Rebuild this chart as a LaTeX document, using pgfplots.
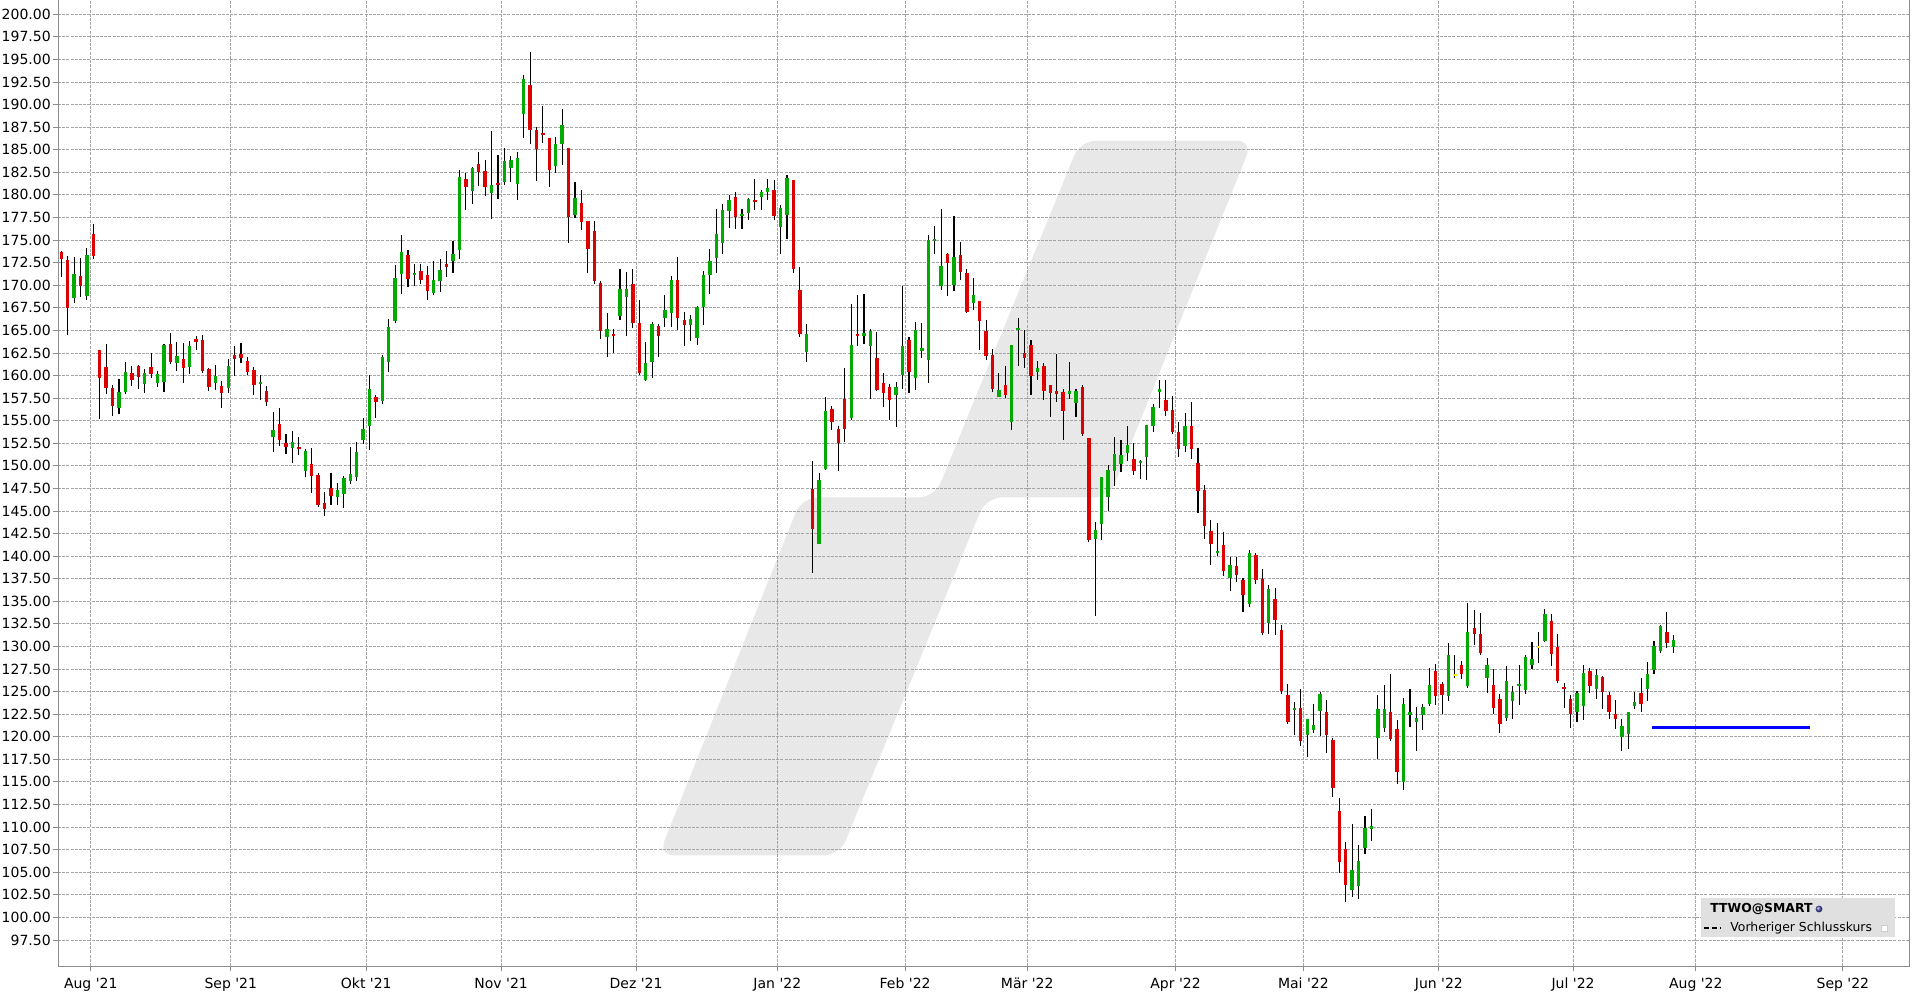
\documentclass[border=0pt]{standalone}
\usepackage{pgfplots}
\pgfplotsset{compat=1.18}
\usepackage{pgfplotstable}
\usepackage{fontspec}
\setmainfont{DejaVu Sans}
\definecolor{upgreen}{RGB}{0,170,0}
\definecolor{downred}{RGB}{220,0,0}
\definecolor{flatyellow}{RGB}{255,235,0}
\definecolor{wmgray}{RGB}{232,232,232}
\definecolor{gridgray}{RGB}{165,165,165}
\definecolor{legendgray}{RGB}{224,224,224}
\definecolor{pureblue}{RGB}{0,0,255}

\pgfplotstableread{
i o h l c
-5 173.68 173.75 170.96 172.86
-4 172.75 173.19 164.43 167.44
-3 168.55 173.08 167.99 171.19
-2 171.04 172.97 168.66 169.89
-1 168.85 174.08 168.40 173.30
0 175.64 176.76 172.86 173.23
1 162.83 162.83 155.18 159.75
2 160.97 163.50 157.97 158.64
3 158.60 158.93 155.52 156.63
4 156.41 159.60 155.74 158.15
5 158.15 161.49 157.97 160.38
6 160.27 161.05 158.82 159.53
7 161.05 161.16 158.49 159.86
8 159.08 160.72 158.04 160.27
9 160.94 162.50 159.75 160.16
10 159.16 160.49 158.71 160.16
11 159.27 163.54 158.15 163.43
12 163.50 164.76 161.23 161.46
13 161.38 163.72 160.49 162.20
14 161.83 163.61 159.16 160.83
15 160.97 163.83 160.16 163.28
16 164.09 164.39 162.83 163.76
17 163.95 164.50 160.27 160.49
18 160.72 160.83 158.26 158.75
19 159.19 161.16 158.41 159.93
20 158.82 159.38 156.41 158.08
21 158.64 161.83 158.04 161.05
22 162.27 163.28 159.93 161.87
23 162.39 163.61 161.38 161.98
24 161.60 162.05 160.05 160.42
25 160.60 160.94 157.86 158.97
26 159.08 160.05 157.26 159.27
27 158.27 158.82 156.64 157.09
28 153.20 155.94 151.54 153.94
29 154.61 156.38 152.21 152.87
30 152.47 153.50 151.32 152.10
31 151.99 153.83 150.33 152.61
32 152.06 153.17 151.21 151.88
33 149.44 151.91 148.78 151.62
34 150.21 151.95 147.00 148.88
35 148.96 149.18 145.45 145.63
36 145.85 147.07 144.45 145.19
37 147.52 149.18 145.71 146.67
38 146.56 148.07 145.71 147.30
39 146.89 148.85 145.34 148.63
40 148.33 152.10 147.99 149.07
41 148.78 152.61 148.33 151.50
42 152.87 155.27 152.43 154.05
43 154.42 160.04 151.77 158.49
44 157.60 157.82 155.31 157.09
45 157.19 162.25 156.83 162.03
46 161.52 166.25 160.41 165.36
47 166.02 172.23 165.80 170.79
48 171.27 175.56 169.02 173.67
49 173.34 173.89 169.76 170.68
50 171.12 172.34 169.90 171.35
51 171.57 172.34 170.13 170.57
52 171.12 172.12 168.35 169.35
53 169.13 172.67 168.90 170.57
54 170.46 172.90 169.24 171.68
55 172.38 173.78 170.90 172.01
56 172.67 174.89 171.34 173.45
57 173.90 182.76 172.90 182.00
58 181.75 182.42 178.36 180.83
59 180.39 183.12 178.95 183.01
60 183.45 184.78 181.01 182.56
61 182.68 183.89 179.91 180.90
62 180.20 187.10 177.36 181.13
63 181.35 184.45 179.58 181.05
64 181.45 185.22 181.12 183.78
65 183.00 184.34 181.45 183.89
66 181.24 184.78 179.46 184.11
67 189.00 193.30 186.33 192.86
68 192.20 195.85 185.66 187.21
69 187.21 187.55 181.57 185.11
70 186.88 189.87 185.77 186.66
71 186.33 186.33 180.90 182.79
72 183.23 186.44 182.45 185.66
73 185.66 189.54 183.34 187.77
74 185.22 185.22 174.70 177.58
75 177.80 181.45 177.47 179.69
76 179.13 180.57 176.14 177.03
77 177.14 177.14 171.38 174.04
78 176.03 177.14 170.17 170.50
79 170.28 170.50 164.08 164.96
80 164.30 166.96 162.09 165.18
81 164.56 165.18 162.45 164.34
82 166.62 171.83 166.18 169.61
83 168.73 171.49 164.41 169.61
84 170.16 171.83 165.30 165.85
85 165.85 168.40 160.09 160.31
86 159.54 163.75 159.43 161.42
87 161.53 165.96 159.76 165.74
88 165.51 165.74 162.09 164.41
89 166.41 168.92 165.42 167.26
90 166.96 171.02 165.42 170.58
91 170.58 173.13 165.08 166.41
92 166.15 167.04 163.31 165.64
93 165.64 166.70 163.87 166.26
94 164.20 167.70 163.42 167.59
95 167.63 171.58 165.64 171.13
96 171.13 174.01 169.03 172.68
97 173.05 178.44 171.36 175.67
98 174.71 179.00 173.50 178.33
99 178.22 179.99 176.37 179.44
100 179.77 180.32 176.26 177.59
101 177.70 178.44 176.26 177.89
102 178.03 179.66 177.26 179.55
103 179.44 181.76 178.37 179.25
104 179.77 180.54 178.37 180.32
105 180.32 181.76 179.40 180.76
106 180.54 181.65 177.22 177.70
107 176.48 178.88 173.50 178.55
108 177.81 182.20 175.16 181.87
109 181.65 181.65 171.39 171.83
110 169.47 172.02 164.31 164.64
111 162.65 165.71 161.54 164.60
112 147.41 150.51 138.11 143.05
113 141.32 149.22 141.32 148.44
114 149.62 157.59 149.51 156.04
115 156.27 156.63 153.94 154.90
116 154.05 154.38 149.40 152.54
117 157.41 160.84 152.68 154.12
118 155.34 167.92 155.12 163.35
119 164.60 168.92 163.31 164.42
120 164.34 169.07 163.45 164.74
121 163.23 165.19 157.36 164.97
122 161.97 164.85 158.24 158.35
123 159.20 160.31 156.47 158.02
124 158.76 159.09 155.03 157.25
125 157.80 159.31 154.25 158.76
126 160.02 169.95 158.46 163.30
127 163.97 164.30 158.02 160.35
128 159.68 165.96 158.35 165.08
129 162.75 165.85 161.97 163.08
130 161.75 175.60 159.13 175.05
131 174.94 176.60 173.50 175.16
132 169.95 178.49 169.51 172.17
133 173.50 173.61 168.84 172.43
134 170.06 177.71 169.40 173.17
135 173.39 174.83 170.62 171.50
136 171.39 171.84 166.96 167.07
137 168.07 170.84 167.29 168.96
138 168.29 168.29 162.86 166.07
139 164.97 166.18 161.75 162.20
140 162.31 162.97 158.21 158.54
141 157.58 160.24 157.58 158.35
142 158.98 161.09 157.54 157.87
143 154.81 163.41 153.92 163.41
144 165.08 166.40 161.09 165.30
145 162.53 165.08 160.79 161.97
146 163.41 163.97 157.87 159.90
147 160.42 161.64 159.54 160.86
148 161.09 161.42 157.25 158.24
149 158.98 158.98 155.36 158.02
150 158.20 162.42 157.02 158.02
151 158.17 158.51 152.86 156.07
152 157.94 161.50 157.40 158.28
153 156.95 158.51 155.42 158.28
154 158.74 158.97 153.28 153.51
155 153.09 153.09 141.53 141.75
156 141.90 143.78 133.40 142.86
157 143.55 148.74 141.75 148.74
158 146.56 150.04 144.96 149.54
159 149.46 153.17 147.75 151.30
160 150.23 152.82 149.31 151.18
161 151.41 154.39 150.53 152.29
162 150.76 152.52 149.00 149.46
163 150.30 150.61 148.55 150.57
164 150.95 154.50 148.47 154.50
165 154.42 156.80 153.74 156.49
166 158.20 159.46 156.41 158.51
167 157.29 159.46 155.46 156.11
168 156.18 157.71 153.55 153.78
169 153.74 154.89 150.99 151.91
170 152.21 155.84 151.56 154.39
171 154.39 157.06 150.80 151.91
172 150.31 151.98 144.81 147.25
173 147.33 147.82 141.91 143.36
174 142.79 144.05 139.00 141.37
175 140.38 143.66 140.00 140.57
176 141.22 142.63 137.82 138.36
177 137.60 139.89 136.14 139.01
178 138.85 139.89 137.14 137.94
179 137.33 137.60 133.82 135.72
180 134.73 140.65 134.35 140.34
181 140.11 140.34 136.95 137.40
182 137.50 138.61 131.23 131.49
183 132.56 136.76 131.34 136.32
184 135.21 136.43 131.23 132.89
185 131.79 132.34 124.71 125.04
186 124.60 125.89 121.39 121.61
187 122.98 123.82 120.18 123.20
188 123.16 125.26 118.96 119.51
189 120.18 121.95 117.74 121.95
190 120.73 123.60 120.40 121.28
191 122.83 124.93 120.07 124.71
192 122.72 124.05 118.19 120.18
193 119.62 119.84 113.32 114.31
194 111.77 113.21 104.92 106.13
195 107.57 108.34 101.71 103.59
196 103.04 110.33 102.26 105.25
197 103.48 108.00 102.04 106.24
198 107.68 111.22 107.02 109.89
199 109.78 111.99 108.45 110.11
200 119.84 124.60 117.52 123.05
201 120.95 125.71 120.51 123.05
202 122.72 126.92 119.51 119.73
203 120.84 121.83 114.75 116.08
204 114.98 124.27 114.09 123.60
205 122.39 125.26 121.06 122.72
206 121.61 123.27 118.41 122.06
207 122.39 123.60 120.73 123.27
208 123.60 127.58 123.38 125.71
209 127.25 128.03 123.49 124.49
210 125.81 126.04 122.50 124.60
211 124.49 130.35 123.94 129.02
212 126.85 129.02 126.48 126.85
213 127.93 128.37 126.37 126.96
214 125.59 134.81 125.37 131.59
215 132.04 134.04 130.15 131.37
216 131.37 133.70 129.04 129.26
217 126.48 128.70 124.81 127.93
218 125.70 127.48 122.48 123.15
219 124.15 124.70 120.37 121.37
220 122.04 127.81 121.70 126.15
221 123.93 125.59 121.93 124.93
222 125.59 127.93 123.48 125.81
223 125.15 129.04 124.70 128.81
224 127.93 130.48 127.48 128.59
225 129.96 131.59 128.15 129.96
226 130.59 134.15 130.48 133.59
227 132.81 133.59 127.81 129.15
228 129.93 131.37 125.93 126.15
229 125.48 125.93 123.15 125.26
230 124.15 124.59 120.93 122.48
231 122.70 125.04 121.59 124.81
232 123.37 127.93 121.81 127.04
233 127.26 127.63 124.81 125.59
234 125.26 127.48 124.15 126.81
235 126.59 126.70 123.04 124.92
236 124.59 124.92 121.92 122.70
237 122.48 124.04 120.81 121.92
238 119.93 121.92 118.37 121.19
239 120.26 122.70 118.59 122.70
240 123.37 124.92 123.04 123.81
241 124.81 126.48 122.70 123.59
242 125.26 128.26 123.93 126.92
243 127.37 130.59 126.92 130.04
244 129.48 132.37 129.26 132.26
245 131.59 133.81 129.81 130.37
246 129.93 131.26 129.26 130.70
}\candles

\begin{document}
\begin{tikzpicture}
\begin{axis}[
  at={(0pt,0pt)}, anchor=south west,
  width=925.5pt, height=483pt, scale only axis,
  xmin=-5.5, xmax=282.7, ymin=94.61, ymax=201.58,
  set layers,
  axis line style={draw=black!45, line width=0.5pt},
  tick pos=left, tick align=outside, major tick length=2.5pt,
  tick style={draw=black!45, line width=0.4pt},
  grid=major,
  major grid style={draw=gridgray, line width=0.4pt, dash pattern=on 1.5pt off 0.6pt},
  xtick={-0.4,21.4,42.5,63.5,84.5,106.5,126.4,145.4,168.5,188.4,209.5,230.4,249.5,272.4},
  xticklabels={Aug \textquotesingle21,Sep \textquotesingle21,Okt \textquotesingle21,Nov \textquotesingle21,Dez \textquotesingle21,Jan \textquotesingle22,Feb \textquotesingle22,Mär \textquotesingle22,Apr \textquotesingle22,Mai \textquotesingle22,Jun \textquotesingle22,Jul \textquotesingle22,Aug \textquotesingle22,Sep \textquotesingle22},
  ytick={97.5,100,...,200},
  scaled y ticks=false,
  /pgf/number format/assume math mode=true,
  yticklabel style={/pgf/number format/.cd, fixed, fixed zerofill, precision=2, /tikz/.cd, xshift=2.4pt},
  ticklabel style={font=\fontsize{7pt}{8pt}\selectfont, text=black},
  candle/.style={draw=none, mark=none, mark size=0pt,
    error bars/y dir=both, error bars/y explicit, error bars/error mark=none},
]
% watermark (decoration)
\addplot[fill=wmgray, draw=none, on layer=axis background, rounded corners=8pt, forget plot]
  coordinates {(153.65,186.0) (180.5,186.0) (158.2,146.5) (139.0,146.5) (116.2,106.85) (88.0,106.85) (110.3,146.5) (131.0,146.5)} -- cycle;
% wicks
\addplot[candle, error bars/error bar style={draw=black, line width=0.55pt}]
  table[x=i, y expr={(\thisrow{h}+\thisrow{l})/2}, y error expr={(\thisrow{h}-\thisrow{l})/2}] {\candles};
% up bodies
\addplot[candle, error bars/error bar style={draw=upgreen, line width=1.7pt},
  restrict expr to domain={\thisrow{c}-\thisrow{o}}{0.0005:1000}]
  table[x=i, y expr={(\thisrow{o}+\thisrow{c})/2}, y error expr={max(abs(\thisrow{c}-\thisrow{o})/2,0.12)}] {\candles};
% down bodies
\addplot[candle, error bars/error bar style={draw=downred, line width=1.7pt},
  restrict expr to domain={\thisrow{c}-\thisrow{o}}{-1000:-0.0005}]
  table[x=i, y expr={(\thisrow{o}+\thisrow{c})/2}, y error expr={max(abs(\thisrow{c}-\thisrow{o})/2,0.12)}] {\candles};
% unchanged bodies
\addplot[candle, error bars/error bar style={draw=flatyellow, line width=1.7pt},
  restrict expr to domain={\thisrow{c}-\thisrow{o}}{-0.0004:0.0004}]
  table[x=i, y expr={(\thisrow{o}+\thisrow{c})/2}, y error expr={0.12}] {\candles};
% previous close
\addplot[draw=pureblue, line width=1.65pt, forget plot] coordinates {(242.7,121.0) (267.3,121.0)};
\end{axis}
% legend
\fill[legendgray] (821.5pt,14.5pt) rectangle (918.5pt,34pt);
\node[anchor=west, inner sep=0pt, font=\fontsize{6.2pt}{7pt}\selectfont\bfseries] at (826pt,28.5pt) {TTWO@SMART};
\shade[ball color=blue!40!gray] (880.5pt,28.5pt) circle (1.7pt);
\draw[black, line width=0.8pt, dash pattern=on 2.6pt off 1.6pt] (822.8pt,19pt) -- (831.5pt,19pt);
\node[anchor=west, inner sep=0pt, font=\fontsize{6.2pt}{7pt}\selectfont] at (836pt,19pt) {Vorheriger Schlusskurs};
\filldraw[fill=white, draw=black!20, line width=0.3pt] (911.5pt,17.5pt) rectangle (914.5pt,20.5pt);
\pgfresetboundingbox
\path[use as bounding box] (-29pt,-15pt) rectangle (929pt,483pt);
\end{tikzpicture}
\end{document}
